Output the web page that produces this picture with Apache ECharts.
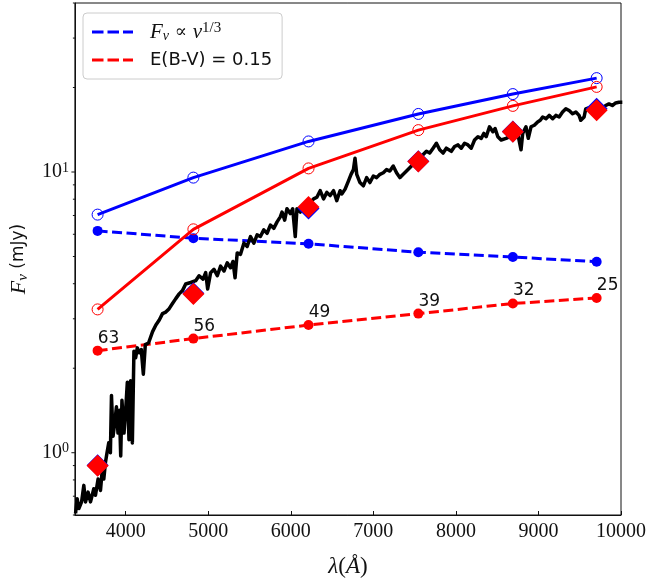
<!DOCTYPE html>
<html><head><meta charset="utf-8">
<script src="https://cdn.jsdelivr.net/npm/echarts@6/dist/echarts.min.js"></script>
<style>html,body{margin:0;padding:0;background:#fff}#c{width:671px;height:583px}</style>
</head><body><div id="c"></div>
<script>
// ---- data ----
const bandWave   = [3660, 4820, 6215, 7545, 8690, 9705];
const modelBlue  = [7.05, 9.55, 12.85, 16.1, 18.95, 21.6];   // solid blue, open circles
const modelRed   = [3.24, 6.25, 10.3, 14.1, 17.2, 20.1];     // solid red, open circles
const powerLaw   = [6.17, 5.81, 5.55, 5.18, 4.98, 4.79];     // dashed blue, F_nu ∝ nu^(1/3)
const extinct    = [2.31, 2.55, 2.85, 3.13, 3.40, 3.56];     // dashed red, E(B-V)=0.15
const extLabels  = ['63', '56', '49', '39', '32', '25'];
const photRed    = [0.898, 3.68, 7.5, 10.9, 13.9, 16.6];
const photBlue   = [0.903, 3.70, 7.42, 10.92, 13.93, 16.8];

const specWave = [3393,3412,3433,3466,3493,3514,3545,3574,3614,3634,3666,3695,3714,3735,3755,3774,3795,3815,3828,3847,3867,3888,3907,3924,3940,3955,3980,4000,4020,4040,4060,4081,4100,4121,4141,4165,4189,4214,4238,4277,4326,4366,4407,4446,4486,4527,4567,4607,4648,4688,4727,4788,4848,4889,4937,4969,4993,5029,5070,5110,5150,5191,5230,5270,5300,5325,5351,5391,5432,5472,5512,5553,5592,5632,5673,5713,5753,5794,5834,5873,5894,5926,5954,5994,6023,6054,6075,6115,6156,6216,6276,6316,6356,6397,6437,6477,6518,6557,6597,6618,6658,6699,6730,6759,6778,6799,6838,6879,6919,6959,7000,7040,7080,7121,7161,7200,7241,7281,7321,7362,7402,7462,7522,7583,7643,7683,7724,7764,7804,7845,7884,7945,7984,8026,8065,8105,8146,8186,8226,8267,8307,8339,8367,8407,8448,8475,8508,8548,8608,8689,8749,8789,8809,8849,8877,8910,8950,8990,9022,9051,9091,9130,9172,9211,9251,9292,9332,9372,9413,9453,9492,9513,9553,9573,9633,9714,9775,9814,9854,9895,9935,9975,10016];
const specFlux = [0.608,0.686,0.633,0.668,0.765,0.668,0.724,0.668,0.744,0.705,0.806,0.734,0.851,0.806,0.923,1.0,1.084,1.0,1.6,1.144,1.274,1.457,1.175,1.418,0.974,1.537,1.175,1.418,1.782,1.113,1.806,1.084,2.30,2.18,2.363,2.27,2.33,1.905,2.427,2.46,2.70,2.85,2.97,3.13,3.17,3.26,3.40,3.54,3.68,3.78,3.99,4.04,4.10,4.27,4.155,4.38,3.83,4.38,4.50,4.27,4.62,4.44,4.75,4.56,4.8,4.2,5.15,5.09,5.58,5.43,5.89,5.58,5.97,5.89,6.22,6.05,6.47,6.30,6.645,6.92,7.20,6.74,7.40,7.11,7.40,5.89,7.40,7.20,7.50,7.70,8.02,8.13,8.58,8.02,8.46,8.24,8.58,7.91,8.58,8.35,8.69,9.30,9.81,10.2,11.2,9.81,9.17,8.93,9.55,9.17,9.68,9.55,9.81,9.94,10.2,10.08,10.5,9.94,9.55,9.81,10.08,10.5,10.93,11.38,11.85,11.68,12.16,12.66,12.0,11.68,12.16,11.85,12.33,12.49,12.16,12.66,12.49,12.16,13.0,13.36,13.18,13.72,13.36,14.49,13.92,14.29,13.36,13.0,13.18,13.54,13.72,12.0,13.72,14.49,13.18,14.49,14.68,15.08,15.28,15.7,15.49,15.91,15.49,15.91,15.7,16.35,16.79,16.56,16.13,16.35,15.91,15.28,15.7,16.79,17.02,16.56,16.79,17.25,17.48,17.25,17.62,17.73,17.73];

const yMajorTicks = [1, 10];
const yMinorTicks = [0.6, 0.7, 0.8, 0.9, 2, 3, 4, 5, 6, 7, 8, 9, 20, 30, 40];

// ---- chart ----
const X_MIN = 3385, X_MAX = 10000, Y_MIN = 0.6, Y_MAX = 40;
const serif = 'Liberation Serif', sans = 'DejaVu Sans';
const INK = '#111';
const BLUE = '#0000ff', RED = '#ff0000';
const zip = (xs, ys) => xs.map((x, i) => [x, ys[i]]);
const dash = [10, 4.5];
const dashIcon = 'path://M0,0H11.5V3H0Z M15.5,0H27V3H15.5Z M31,0H41V3H31Z';

function tickSeries(vals, len) {
  return {
    type: 'custom', silent: true, clip: false, z: 6,
    data: vals.map(v => [X_MIN, v]),
    renderItem: (params, api) => {
      const p = api.coord([api.value(0), api.value(1)]);
      return { type: 'line', shape: { x1: p[0] - len, y1: p[1], x2: p[0], y2: p[1] },
               style: { stroke: INK, lineWidth: 1 } };
    }
  };
}

const chart = echarts.init(document.getElementById('c'), null, { renderer: 'canvas' });
chart.setOption({
  animation: false,
  backgroundColor: '#fff',
  grid: { left: 72, right: 50, top: 3, bottom: 60, show: true, borderColor: INK, borderWidth: 1 },
  legend: {
    orient: 'vertical', left: 83, top: 13, selectedMode: false,
    data: [{ name: 'fnu', icon: dashIcon }, { name: 'ebv', icon: dashIcon }],
    itemWidth: 41, itemHeight: 3, itemGap: 8, padding: [8, 10, 10, 9], symbolKeepAspect: false,
    backgroundColor: 'rgba(255,255,255,0.85)', borderColor: '#cccccc', borderWidth: 1, borderRadius: 4,
    formatter: n => n === 'fnu' ? '{i|F}{sub|ν}{m| ∝ }{i|ν}{sup|1/3}' : '{t|E(B-V) = 0.15}',
    textStyle: {
      padding: [0, 0, 0, 12],
      rich: {
        i: { fontFamily: serif, fontStyle: 'italic', fontSize: 21, color: INK, lineHeight: 22 },
        m: { fontFamily: 'DejaVu Serif', fontSize: 18, color: INK, lineHeight: 22 },
        sub: { fontFamily: serif, fontStyle: 'italic', fontSize: 14, color: INK, verticalAlign: 'bottom' },
        sup: { fontFamily: serif, fontSize: 15, color: INK, verticalAlign: 'top' },
        t: { fontFamily: sans, fontSize: 18, color: INK, lineHeight: 22 }
      }
    }
  },
  xAxis: {
    type: 'value', min: X_MIN, max: X_MAX, splitNumber: 7,
    axisLine: { lineStyle: { color: INK, width: 1 } },
    axisTick: { inside: true, length: 4, lineStyle: { color: INK } },
    splitLine: { show: false },
    axisLabel: { showMinLabel: false, color: INK, fontFamily: serif, fontSize: 20, margin: 7,
                 formatter: v => String(v) },
    name: '{i|λ}{n|(}{i|Å}{n|)}', nameLocation: 'middle', nameGap: 40,
    nameTextStyle: { rich: {
      i: { fontFamily: serif, fontStyle: 'italic', fontSize: 23, color: INK },
      n: { fontFamily: serif, fontSize: 23, color: INK } } }
  },
  yAxis: {
    type: 'log', logBase: 10, min: Y_MIN, max: Y_MAX,
    axisLine: { show: true, lineStyle: { color: INK, width: 1 } },
    axisTick: { show: false }, minorTick: { show: false }, splitLine: { show: false },
    axisLabel: {
      margin: 6,
      formatter: v => {
        const e = Math.log10(v);
        if (Math.abs(e - Math.round(e)) < 1e-6) return '{b|10}{s|' + Math.round(e) + '}';
        return '';
      },
      rich: {
        b: { fontFamily: serif, fontSize: 20, color: INK, lineHeight: 22 },
        s: { fontFamily: serif, fontSize: 14, color: INK, verticalAlign: 'top' }
      }
    },
    name: '{i|F}{sub|ν}{n| (mJy)}', nameLocation: 'middle', nameGap: 28, nameRotate: 90,
    nameTextStyle: { rich: {
      i: { fontFamily: serif, fontStyle: 'italic', fontSize: 22, color: INK, lineHeight: 24 },
      sub: { fontFamily: serif, fontStyle: 'italic', fontSize: 15, color: INK, verticalAlign: 'bottom' },
      n: { fontFamily: sans, fontSize: 17, color: INK, lineHeight: 24 } } }
  },
  series: [
    { name: 'fnu', type: 'line', data: [], symbol: 'none',
      lineStyle: { color: BLUE, width: 3, type: dash }, itemStyle: { color: BLUE } },
    { name: 'ebv', type: 'line', data: [], symbol: 'none',
      lineStyle: { color: RED, width: 3, type: dash }, itemStyle: { color: RED } },
    { name: 'powerLaw', type: 'line', z: 2, data: zip(bandWave, powerLaw),
      symbol: 'circle', symbolSize: 10,
      lineStyle: { color: BLUE, width: 3, type: dash }, itemStyle: { color: BLUE } },
    { name: 'extinct', type: 'line', z: 2, data: zip(bandWave, extinct),
      symbol: 'circle', symbolSize: 10,
      lineStyle: { color: RED, width: 3, type: dash }, itemStyle: { color: RED },
      label: { show: true, position: 'top', distance: 1, offset: [11, 2],
               formatter: p => extLabels[p.dataIndex], fontFamily: sans, fontSize: 17, color: INK } },
    { name: 'spectrum', type: 'line', z: 3, data: zip(specWave, specFlux), showSymbol: false, symbol: 'none',
      clip: true, lineStyle: { color: '#000', width: 3.5, join: 'round' }, itemStyle: { color: '#000' } },
    { name: 'modelBlue', type: 'line', z: 4, data: zip(bandWave, modelBlue),
      symbol: 'circle', symbolSize: 11,
      lineStyle: { color: BLUE, width: 3 },
      itemStyle: { color: 'rgba(0,0,0,0)', borderColor: BLUE, borderWidth: 1 } },
    { name: 'modelRed', type: 'line', z: 4, data: zip(bandWave, modelRed),
      symbol: 'circle', symbolSize: 11,
      lineStyle: { color: RED, width: 3 },
      itemStyle: { color: 'rgba(0,0,0,0)', borderColor: RED, borderWidth: 1 } },
    { name: 'photBlue', type: 'scatter', z: 5, data: zip(bandWave, photBlue),
      symbol: 'diamond', symbolSize: 22, itemStyle: { color: BLUE, opacity: 1 } },
    { name: 'photRed', type: 'scatter', z: 5, data: zip(bandWave, photRed),
      symbol: 'diamond', symbolSize: 22, itemStyle: { color: RED, opacity: 1 } },
    tickSeries(yMajorTicks, 3.5),
    tickSeries(yMinorTicks, 2)
  ]
});
</script></body></html>
